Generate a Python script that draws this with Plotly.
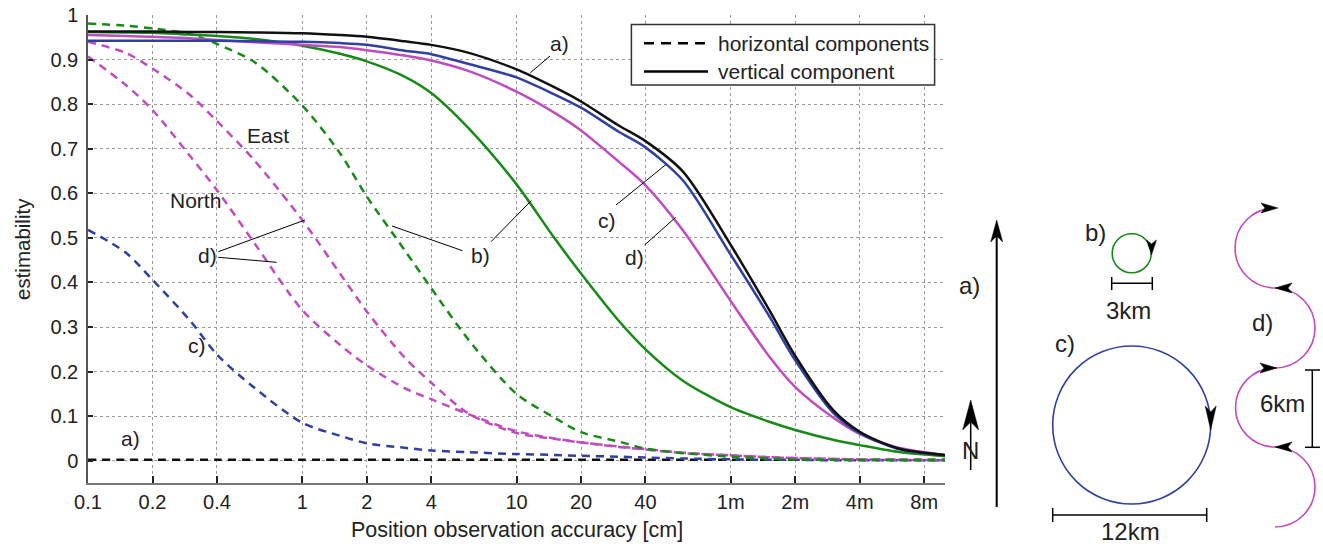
import plotly.graph_objects as go

W, H = 1323, 554

# ---------------- data ----------------
accuracy_cm = [0.1, 0.15, 0.2, 0.3, 0.4, 0.6, 1, 1.5, 2, 3, 4, 6, 10, 15, 20,
               30, 40, 60, 100, 150, 200, 300, 400, 600, 1000]

# vertical component (solid)
vert_a = [0.963, 0.963, 0.963, 0.962, 0.962, 0.961, 0.959, 0.955, 0.951, 0.941, 0.933, 0.915, 0.878,
          0.838, 0.806, 0.752, 0.717, 0.648, 0.484, 0.341, 0.235, 0.114, 0.065, 0.028, 0.013]
vert_b = [0.962, 0.961, 0.960, 0.956, 0.953, 0.946, 0.931, 0.913, 0.896, 0.862, 0.825, 0.745, 0.620,
          0.500, 0.420, 0.314, 0.250, 0.179, 0.120, 0.088, 0.069, 0.047, 0.035, 0.020, 0.010]
vert_c = [0.942, 0.942, 0.942, 0.942, 0.942, 0.941, 0.940, 0.937, 0.933, 0.920, 0.912, 0.890, 0.860,
          0.822, 0.792, 0.738, 0.703, 0.628, 0.462, 0.327, 0.225, 0.108, 0.062, 0.027, 0.012]
vert_d = [0.955, 0.953, 0.951, 0.948, 0.944, 0.939, 0.933, 0.928, 0.921, 0.909, 0.898, 0.874, 0.828,
          0.781, 0.741, 0.671, 0.618, 0.516, 0.358, 0.236, 0.165, 0.097, 0.060, 0.030, 0.013]

# horizontal components (dashed)
horiz_a = [0.002, 0.002, 0.002, 0.002, 0.002, 0.002, 0.002, 0.002, 0.002, 0.002, 0.002, 0.002, 0.002,
           0.002, 0.002, 0.002, 0.002, 0.002, 0.002, 0.002, 0.002, 0.002, 0.002, 0.002, 0.002]
horiz_b = [0.981, 0.976, 0.970, 0.957, 0.935, 0.894, 0.797, 0.690, 0.593, 0.473, 0.387, 0.270, 0.150,
           0.097, 0.064, 0.043, 0.027, 0.017, 0.009, 0.005, 0.003, 0.002, 0.001, 0.001, 0.001]
horiz_c = [0.518, 0.467, 0.406, 0.314, 0.238, 0.163, 0.085, 0.056, 0.039, 0.029, 0.023, 0.019, 0.015,
           0.013, 0.011, 0.009, 0.007, 0.005, 0.003, 0.002, 0.002, 0.001, 0.001, 0.001, 0.001]
horiz_d_east = [0.940, 0.915, 0.880, 0.820, 0.762, 0.673, 0.540, 0.420, 0.335, 0.232, 0.175, 0.105, 0.062,
                0.049, 0.041, 0.032, 0.026, 0.018, 0.012, 0.008, 0.006, 0.004, 0.003, 0.002, 0.001]
horiz_d_north = [0.907, 0.843, 0.787, 0.683, 0.607, 0.487, 0.338, 0.260, 0.214, 0.163, 0.138, 0.104, 0.066,
                 0.050, 0.041, 0.031, 0.025, 0.017, 0.012, 0.008, 0.006, 0.004, 0.003, 0.002, 0.001]

x_tick_vals = [0.1, 0.2, 0.4, 1, 2, 4, 10, 20, 40, 100, 200, 400, 800]
x_tick_text = ['0.1', '0.2', '0.4', '1', '2', '4', '10', '20', '40', '1m', '2m', '4m', '8m']
y_tick_vals = [0, 0.1, 0.2, 0.3, 0.4, 0.5, 0.6, 0.7, 0.8, 0.9, 1]
y_tick_text = ['0', '0.1', '0.2', '0.3', '0.4', '0.5', '0.6', '0.7', '0.8', '0.9', '1']

# ---------------- styles ----------------
GREEN = '#178a17'
BLUE = '#3040a0'
MAGENTA = '#c04cc0'
BLACK = '#111111'
FONT = 'Liberation Sans, Arial, Helvetica, sans-serif'
DASH = '8px,6px'

fig = go.Figure()

series = [
    (horiz_a, BLACK, DASH),
    (horiz_c, BLUE, DASH),
    (horiz_d_north, MAGENTA, DASH),
    (horiz_d_east, MAGENTA, DASH),
    (horiz_b, GREEN, DASH),
    (vert_b, GREEN, 'solid'),
    (vert_d, MAGENTA, 'solid'),
    (vert_c, BLUE, 'solid'),
    (vert_a, BLACK, 'solid'),
]
for vals, col, dash in series:
    fig.add_trace(go.Scatter(
        x=accuracy_cm, y=vals, mode='lines', xaxis='x', yaxis='y',
        line=dict(color=col, width=2.5, dash=dash, shape='spline', smoothing=0.8),
        hoverinfo='skip', showlegend=False))

# ---------------- decorations (pixel coordinate overlay axes x2/y2) ----------------
shapes = []
annotations = []


def seg(x0, y0, x1, y1, color='black', width=1, dash='solid'):
    shapes.append(dict(type='line', xref='x2', yref='y2', x0=x0, y0=y0, x1=x1, y1=y1,
                       line=dict(color=color, width=width, dash=dash), layer='above'))


def text(x, y, s, size=20, xanchor='center', angle=0):
    annotations.append(dict(xref='x2', yref='y2', x=x, y=y, text=s, showarrow=False,
                            xanchor=xanchor, yanchor='middle', textangle=angle,
                            font=dict(family=FONT, size=size, color='#222')))


def head(tx, ty, direction, L, Wd, n):
    if direction == 'up':
        pts = [(tx, ty), (tx + Wd, ty + L), (tx, ty + L - n), (tx - Wd, ty + L)]
    elif direction == 'down':
        pts = [(tx, ty), (tx + Wd, ty - L), (tx, ty - L + n), (tx - Wd, ty - L)]
    elif direction == 'right':
        pts = [(tx, ty), (tx - L, ty - Wd), (tx - L + n, ty), (tx - L, ty + Wd)]
    else:
        pts = [(tx, ty), (tx + L, ty - Wd), (tx + L - n, ty), (tx + L, ty + Wd)]
    path = 'M ' + ' L '.join(f'{x},{y}' for x, y in pts) + ' Z'
    shapes.append(dict(type='path', xref='x2', yref='y2', path=path, fillcolor='black',
                       line=dict(color='black', width=0.5), layer='above'))


def semicircle(cx, cy, r, side, color):
    k = 0.5523
    s = side
    path = (f"M {cx},{cy - r} C {cx + s * k * r},{cy - r} {cx + s * r},{cy - k * r} {cx + s * r},{cy} "
            f"C {cx + s * r},{cy + k * r} {cx + s * k * r},{cy + r} {cx},{cy + r}")
    shapes.append(dict(type='path', xref='x2', yref='y2', path=path,
                       line=dict(color=color, width=1.6), layer='above'))


def circle(cx, cy, r, color):
    shapes.append(dict(type='circle', xref='x2', yref='y2', x0=cx - r, x1=cx + r, y0=cy - r, y1=cy + r,
                       line=dict(color=color, width=1.6), layer='above'))


# legend box
shapes.append(dict(type='rect', xref='x2', yref='y2', x0=631.4, x1=934.6, y0=24.5, y1=85,
                   line=dict(color='#333', width=1.5), fillcolor='white', layer='above'))
seg(644, 43.3, 708, 43.3, color='black', width=2.5, dash='10px,7px')
seg(644, 71.5, 708, 71.5, color='black', width=2.5)
text(716, 43.3, 'horizontal components', size=21, xanchor='left')
text(716, 71, 'vertical component', size=21, xanchor='left')

# leader lines + curve labels
seg(550, 56, 530.4, 72.7)
seg(491, 241.7, 531.4, 200.5)
seg(392, 226, 462.5, 250.7)
seg(616, 205, 666, 164.5)
seg(644.6, 245, 675.7, 217.3)
seg(218.3, 251.7, 305, 220)
seg(218.3, 257.3, 276.7, 262.3)
text(559, 43, 'a)', size=21)
text(480, 255, 'b)', size=21)
text(607, 220, 'c)', size=21)
text(634, 257, 'd)', size=21)
text(268, 135, 'East', size=21)
text(195, 200, 'North', size=21)
text(207, 255, 'd)', size=21)
text(197, 345, 'c)', size=21)
text(130, 438, 'a)', size=21)

# axis titles
text(22, 249, 'estimability', size=20.5, angle=-90)
text(516.5, 530, 'Position observation accuracy [cm]', size=21.5)

# trajectory sketches
seg(996.7, 507, 996.7, 236, width=2)
head(996.7, 220, 'up', 22, 6, 6)
text(969, 285, 'a)', size=24)

seg(970.7, 470, 970.7, 420, width=1.5)
head(970.7, 400, 'up', 30, 8, 8)
text(970.7, 450, 'N', size=24)

circle(1131.7, 253.3, 19.5, GREEN)
head(1151.5, 255, 'down', 15, 5, 4)
seg(1111.7, 283.3, 1152.3, 283.3, width=1.5)
seg(1111.7, 277, 1111.7, 290, width=1.5)
seg(1152.3, 277, 1152.3, 290, width=1.5)
text(1095, 232, 'b)', size=24)
text(1128, 310, '3km', size=24)

circle(1131.7, 425, 79, BLUE)
head(1210.7, 430, 'down', 24, 5.5, 6)
seg(1052.7, 515, 1206.7, 515, width=1.5)
seg(1052.7, 508, 1052.7, 522, width=1.5)
seg(1206.7, 508, 1206.7, 522, width=1.5)
text(1065, 343, 'c)', size=24)
text(1130, 531, '12km', size=24)

semicircle(1275, 248, 40, -1, MAGENTA)
semicircle(1275, 328, 40, 1, MAGENTA)
semicircle(1275, 407.5, 39.5, -1, MAGENTA)
semicircle(1275, 487, 40, 1, MAGENTA)
head(1278, 208, 'right', 17, 5, 4)
head(1275, 288, 'left', 17, 5, 4)
head(1277, 368, 'right', 17, 5, 4)
head(1275, 447, 'left', 17, 5, 4)
seg(1312.3, 370, 1312.3, 447.3, width=1.5)
seg(1305, 370, 1320, 370, width=1.5)
seg(1305, 447.3, 1320, 447.3, width=1.5)
text(1262, 322, 'd)', size=24)
text(1282, 403, '6km', size=24)

fig.update_layout(
    template='none',
    width=W, height=H,
    margin=dict(l=0, r=0, t=0, b=0, pad=0),
    paper_bgcolor='white', plot_bgcolor='rgba(0,0,0,0)',
    showlegend=False,
    font=dict(family=FONT, size=20, color='#222'),
    xaxis=dict(type='log', domain=[88 / W, 945 / W], range=[-1, 3], anchor='y',
               tickmode='array', tickvals=x_tick_vals, ticktext=x_tick_text,
               ticks='inside', ticklen=7, tickwidth=1.5, tickcolor='#222',
               showline=True, linecolor='#777', linewidth=2,
               showgrid=True, gridcolor='#999', griddash='dot', gridwidth=1,
               zeroline=False, automargin=False, tickfont=dict(family=FONT, size=20, color='#222')),
    yaxis=dict(domain=[(H - 483) / H, (H - 15) / H], range=[-0.05, 1], anchor='x',
               tickmode='array', tickvals=y_tick_vals, ticktext=y_tick_text,
               ticks='inside', ticklen=5, tickwidth=1.5, tickcolor='#222',
               showline=True, linecolor='#555', linewidth=1.5, ticklabelstandoff=4,
               showgrid=True, gridcolor='#999', griddash='dot', gridwidth=1,
               zeroline=False, automargin=False, tickfont=dict(family=FONT, size=20, color='#222')),
    xaxis2=dict(domain=[0, 1], range=[0, W], anchor='y2', visible=False, fixedrange=True),
    yaxis2=dict(domain=[0, 1], range=[H, 0], anchor='x2', visible=False, fixedrange=True),
    shapes=shapes,
    annotations=annotations,
)

fig.write_html('out.html',
               config={'displayModeBar': False},
               post_script="document.body.style.margin='0px';document.body.style.overflow='hidden';")
